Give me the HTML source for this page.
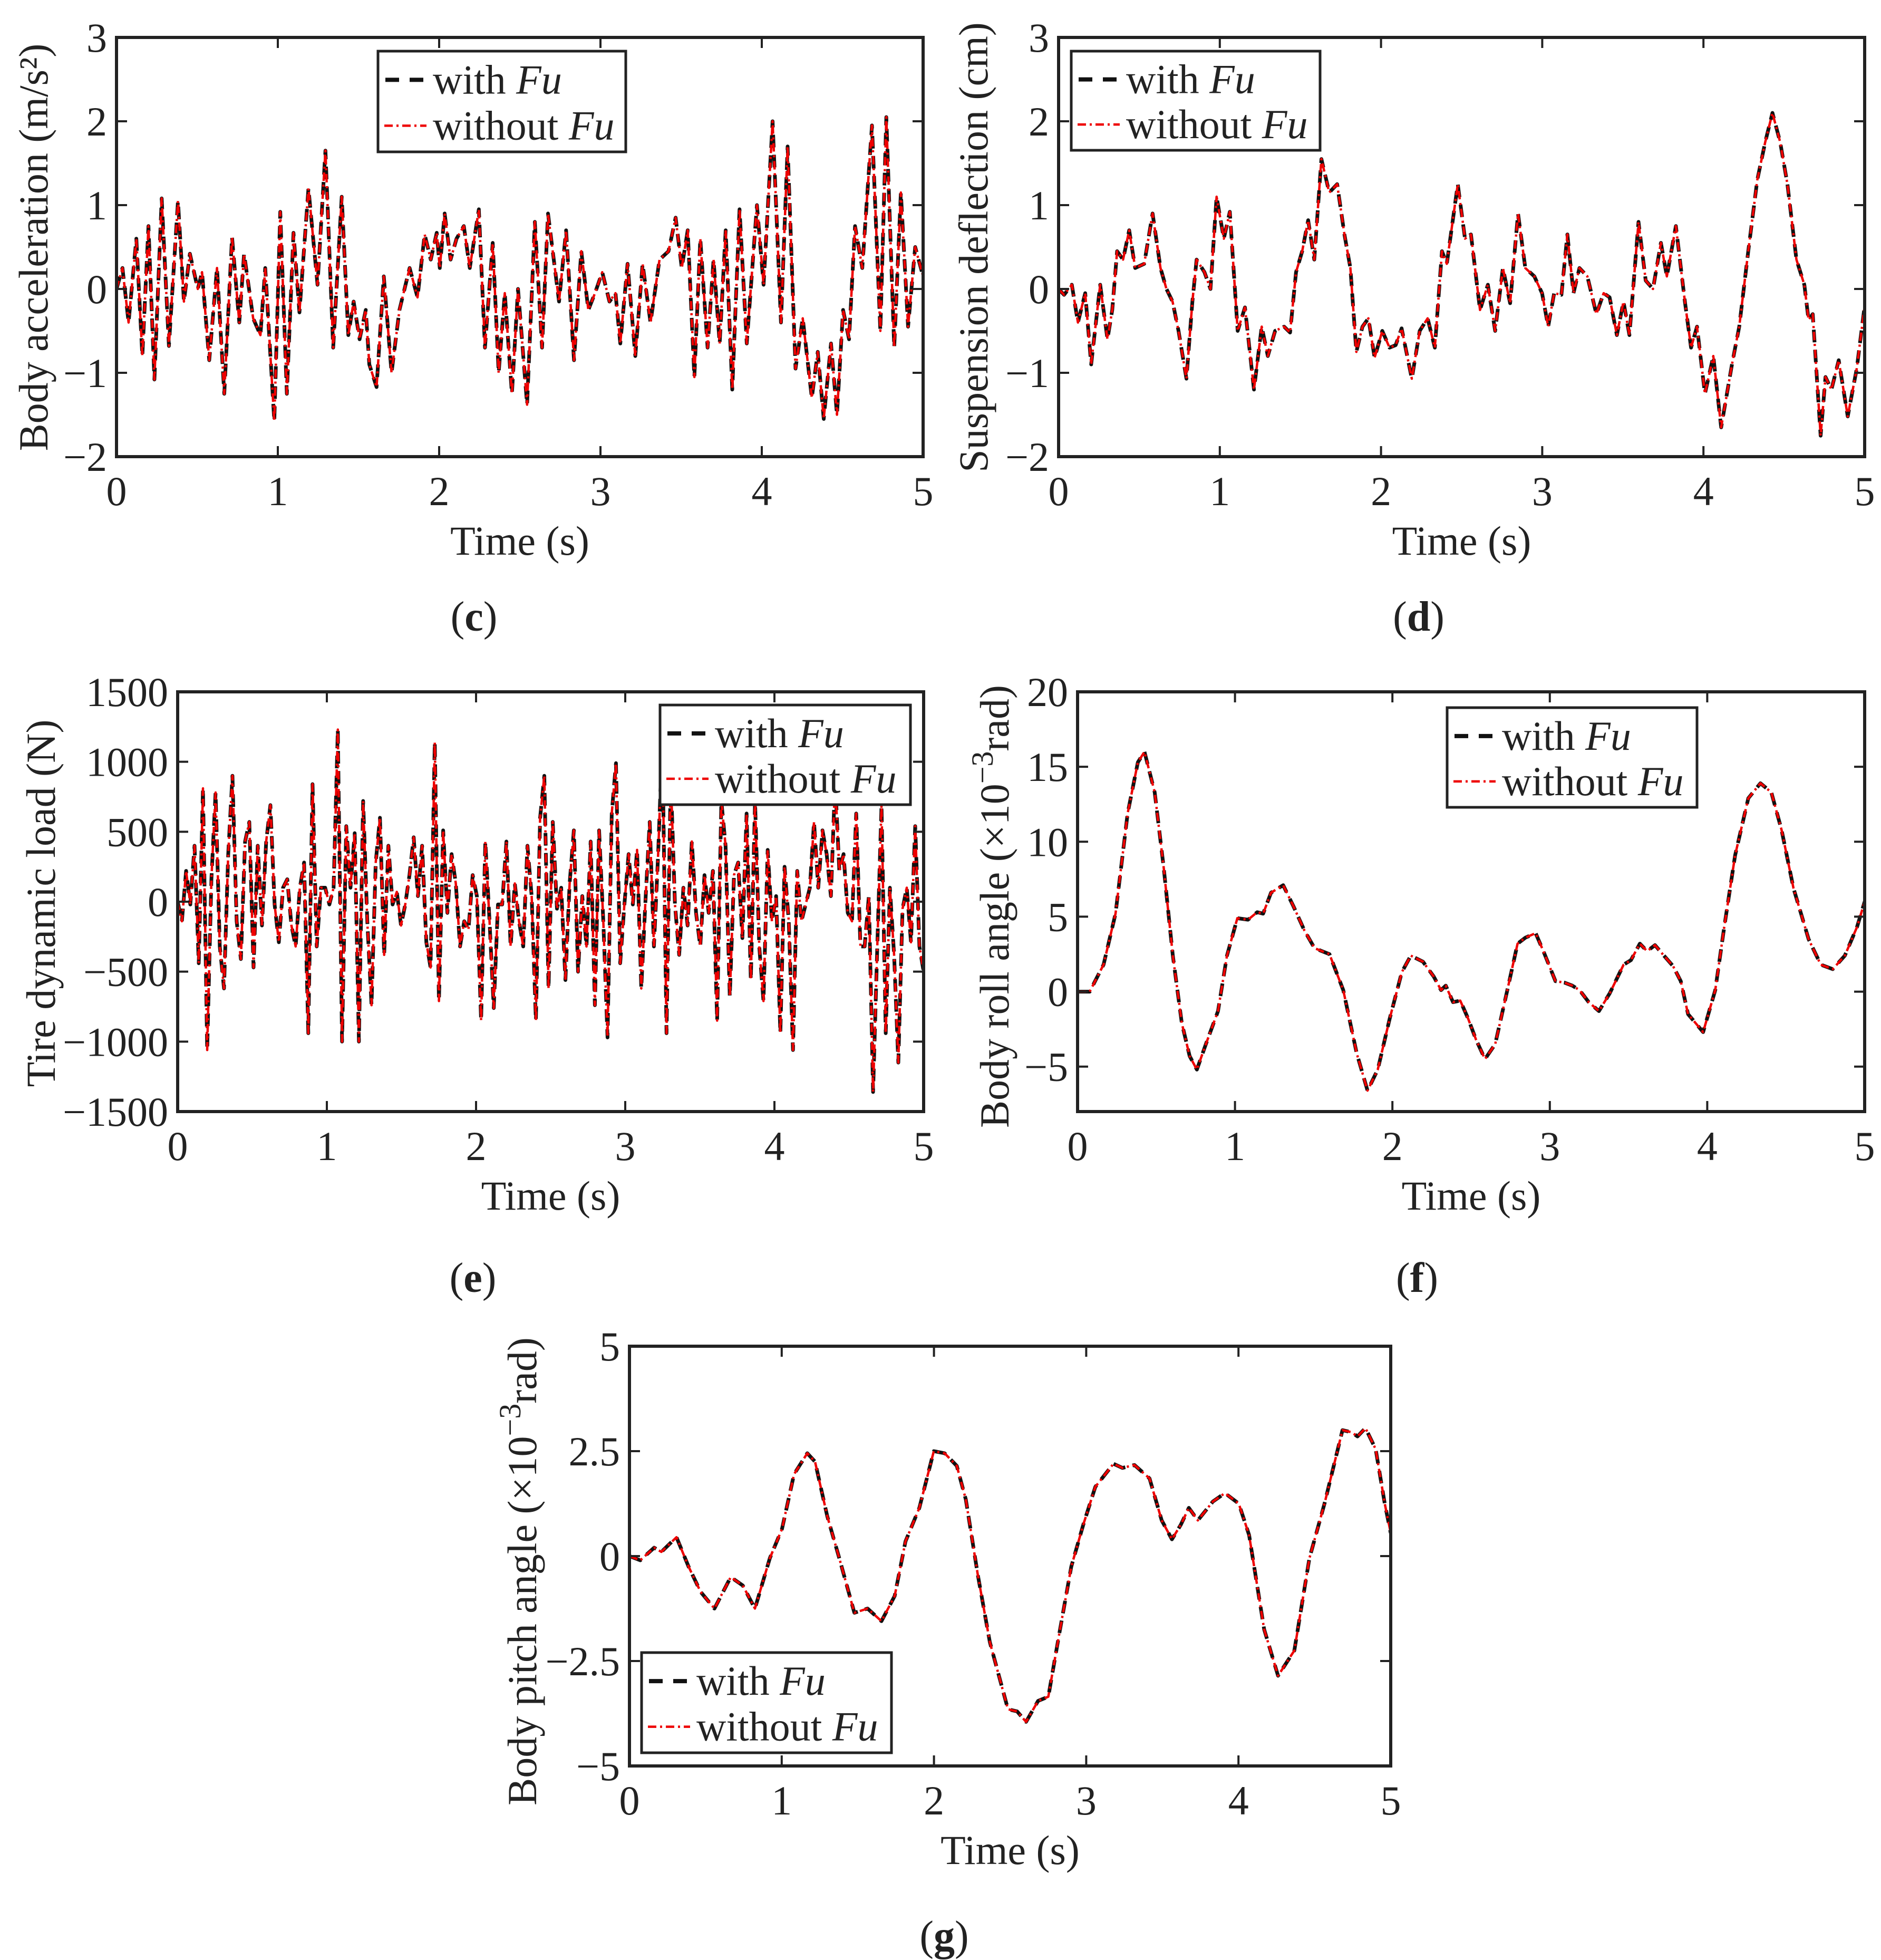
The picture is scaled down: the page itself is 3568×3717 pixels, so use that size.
<!DOCTYPE html>
<html><head><meta charset="utf-8">
<style>
html,body{margin:0;padding:0;background:#fff;}
svg{display:block;}
text{font-family:"Liberation Serif","DejaVu Serif",serif;fill:#222;}
</style></head>
<body>
<svg id="fig" width="3568" height="3717" viewBox="0 0 3568 3717" xmlns="http://www.w3.org/2000/svg"></svg>
<script>
// ---------- data ----------
const xTicks = [0,1,2,3,4,5];
const xTickLabels = ["0","1","2","3","4","5"];

// (c) body acceleration
const accTime = [0,0.037,0.075,0.123,0.160,0.198,0.235,0.280,0.325,0.381,0.418,0.455,0.504,0.530,0.575,0.623,0.668,0.716,0.761,0.791,0.847,0.892,0.922,0.978,1.015,1.056,1.097,1.134,1.190,1.246,1.295,1.343,1.396,1.437,1.470,1.507,1.545,1.567,1.612,1.657,1.705,1.754,1.817,1.866,1.910,1.948,1.985,2.004,2.034,2.071,2.108,2.153,2.190,2.246,2.284,2.332,2.369,2.407,2.451,2.489,2.545,2.593,2.638,2.675,2.743,2.787,2.836,2.881,2.925,2.966,3.011,3.056,3.093,3.123,3.168,3.216,3.261,3.310,3.366,3.422,3.466,3.504,3.541,3.582,3.619,3.664,3.701,3.739,3.776,3.817,3.862,3.907,3.970,4.011,4.067,4.119,4.160,4.209,4.254,4.310,4.347,4.384,4.429,4.466,4.504,4.541,4.578,4.623,4.683,4.735,4.772,4.821,4.862,4.907,4.951,5.0];
const accWith = [0,0.25,-0.4,0.6,-0.8,0.75,-1.08,1.08,-0.68,1.05,-0.15,0.42,0,0.2,-0.85,0.25,-1.25,0.62,-0.4,0.42,-0.35,-0.55,0.25,-1.58,0.92,-1.25,0.67,-0.28,1.2,0.05,1.65,-0.7,1.1,-0.55,-0.15,-0.6,-0.25,-0.9,-1.17,0.15,-1.0,-0.25,0.25,-0.1,0.65,0.35,0.67,0.25,0.9,0.35,0.6,0.75,0.25,0.95,-0.7,0.55,-1.0,-0.05,-1.25,0,-1.38,0.8,-0.7,0.9,-0.15,0.7,-0.85,0.45,-0.25,-0.05,0.2,-0.15,-0.05,-0.65,0.3,-0.8,0.3,-0.4,0.35,0.45,0.85,0.25,0.7,-1.05,0.6,-0.7,0.35,-0.65,0.7,-1.2,0.95,-0.65,1.0,0.05,2.0,-0.4,1.7,-0.95,-0.35,-1.3,-0.75,-1.55,-0.65,-1.5,-0.25,-0.6,0.75,0.25,1.95,-0.5,2.05,-0.7,1.15,-0.45,0.5,0.15];
const accWithout = accWith; // curves coincide in the figure

// (d) suspension deflection
const defTime = [0,0.034,0.082,0.120,0.165,0.202,0.258,0.303,0.333,0.363,0.400,0.438,0.475,0.531,0.583,0.632,0.669,0.707,0.744,0.793,0.830,0.856,0.905,0.942,0.980,1.025,1.062,1.111,1.156,1.212,1.260,1.298,1.343,1.399,1.436,1.473,1.511,1.548,1.586,1.630,1.679,1.728,1.773,1.810,1.847,1.885,1.922,1.960,2.008,2.053,2.091,2.128,2.191,2.240,2.289,2.334,2.378,2.408,2.476,2.521,2.558,2.614,2.663,2.708,2.756,2.801,2.850,2.895,2.951,2.999,3.037,3.074,3.119,3.156,3.194,3.231,3.280,3.336,3.381,3.418,3.463,3.504,3.541,3.597,3.642,3.687,3.736,3.773,3.829,3.885,3.923,3.960,4.009,4.061,4.110,4.177,4.222,4.278,4.334,4.383,4.428,4.476,4.521,4.577,4.626,4.652,4.678,4.727,4.757,4.794,4.839,4.895,4.951,5.0];
const defWith = [0,-0.07,0.05,-0.4,-0.05,-0.9,0.05,-0.6,-0.25,0.45,0.35,0.7,0.25,0.3,0.9,0.25,0,-0.15,-0.5,-1.07,-0.15,0.35,0.2,0,1.1,0.6,0.92,-0.5,-0.22,-1.2,-0.45,-0.8,-0.5,-0.45,-0.52,0.2,0.45,0.82,0.35,1.55,1.15,1.25,0.65,0.25,-0.75,-0.45,-0.35,-0.82,-0.5,-0.7,-0.67,-0.47,-1.07,-0.5,-0.35,-0.7,0.45,0.3,1.25,0.6,0.65,-0.25,0.05,-0.5,0.25,-0.17,0.9,0.25,0.15,-0.05,-0.45,-0.05,-0.07,0.65,-0.05,0.25,0.15,-0.3,-0.05,-0.1,-0.55,-0.15,-0.55,0.8,0.1,0,0.55,0.15,0.75,-0.15,-0.7,-0.45,-1.25,-0.8,-1.65,-0.9,-0.45,0.45,1.3,1.75,2.1,1.75,1.25,0.35,0.05,-0.37,-0.3,-1.75,-1.05,-1.2,-0.85,-1.52,-0.95,-0.2];
const defWithout = defWith;

// (e) tire dynamic load, uniformly sampled over 0..5 s
const loadWith = [0,-140,220,-20,400,-440,810,-1060,160,780,-320,-620,340,900,-140,-410,430,570,-470,400,-170,430,690,-20,-290,100,160,-170,-320,100,280,-940,840,-320,100,100,-20,100,1230,-1000,540,100,490,-1000,720,-140,-740,280,600,-380,400,-20,70,-170,-20,190,460,40,400,-290,-470,1140,-710,510,-80,340,130,-320,-140,-200,190,40,-850,430,-140,-760,-20,-20,430,-320,130,-140,-320,400,40,-850,600,900,-620,570,-50,100,-560,130,510,-500,40,-320,430,-740,510,-140,-970,630,990,-440,-20,340,-20,370,-620,10,570,-320,340,1170,-940,900,-20,-380,100,-170,430,-80,-320,190,-80,220,-850,720,400,-680,190,280,-260,630,-560,720,-320,-710,370,-140,40,-940,250,-140,-1060,220,-140,-20,100,570,100,510,340,40,870,220,340,-80,-140,630,-320,-320,40,-1360,-320,690,-940,100,-380,-1150,-50,100,-290,540,-320,-500];
const loadWithout = loadWith;
const loadTime = loadWith.map((v,i)=>i*5/(loadWith.length-1));

// (f) body roll angle (x10^-3 rad)
const rollTime = [0,0.077,0.165,0.241,0.318,0.383,0.425,0.490,0.547,0.605,0.662,0.712,0.758,0.815,0.892,0.949,1.015,1.083,1.141,1.179,1.229,1.306,1.371,1.440,1.505,1.600,1.688,1.773,1.842,1.907,1.983,2.060,2.117,2.194,2.263,2.309,2.339,2.385,2.431,2.481,2.531,2.588,2.653,2.730,2.795,2.845,2.910,2.959,3.036,3.093,3.143,3.189,3.247,3.312,3.381,3.469,3.515,3.572,3.618,3.668,3.725,3.783,3.832,3.878,3.974,4.051,4.108,4.177,4.261,4.338,4.407,4.472,4.548,4.644,4.721,4.797,4.874,4.951,5.0];
const rollWith = [0,0,1.8,5.2,11.9,15.3,16.0,13.3,8.3,2.4,-2.1,-4.3,-5.2,-3.5,-1.3,2.4,4.9,4.8,5.3,5.2,6.6,7.1,5.7,4.1,2.9,2.5,0.1,-4.1,-6.6,-5.2,-1.8,1.3,2.4,2.0,1.0,0.1,0.4,-0.7,-0.6,-1.8,-3.2,-4.5,-3.5,0.1,3.2,3.6,3.9,2.7,0.7,0.6,0.4,0.1,-0.7,-1.3,-0.1,1.8,2.1,3.2,2.7,3.1,2.4,1.7,0.7,-1.5,-2.7,0.1,4.3,9.1,12.9,13.9,13.3,10.8,6.9,3.5,1.8,1.5,2.4,4.3,6.0];
const rollWithout = rollWith;

// (g) body pitch angle (x10^-3 rad)
const pitchTime = [0,0.071,0.162,0.210,0.309,0.388,0.467,0.558,0.665,0.744,0.824,0.922,1.002,1.081,1.168,1.219,1.299,1.378,1.477,1.564,1.655,1.742,1.813,1.904,1.999,2.070,2.150,2.209,2.288,2.367,2.486,2.546,2.605,2.684,2.751,2.823,2.902,2.981,3.060,3.179,3.238,3.317,3.416,3.496,3.563,3.622,3.674,3.733,3.832,3.911,4.002,4.070,4.169,4.260,4.367,4.466,4.565,4.683,4.743,4.782,4.834,4.901,4.961,5.0];
const pitchWith = [0,-0.1,0.2,0.1,0.45,-0.25,-0.85,-1.25,-0.5,-0.7,-1.25,-0.05,0.65,1.95,2.45,2.25,0.95,-0.05,-1.35,-1.25,-1.55,-0.95,0.35,1.15,2.5,2.45,2.15,1.35,-0.45,-2.05,-3.65,-3.7,-3.95,-3.45,-3.35,-1.85,-0.25,0.75,1.65,2.2,2.1,2.17,1.85,0.85,0.4,0.75,1.15,0.85,1.3,1.5,1.25,0.5,-1.75,-2.85,-2.25,-0.05,1.25,3.0,2.95,2.85,3.05,2.55,1.25,0.55];
const pitchWithout = pitchWith;

const accYTicks=[-2,-1,0,1,2,3], accYLabels=["−2","−1","0","1","2","3"];
const defYTicks=[-2,-1,0,1,2,3], defYLabels=["−2","−1","0","1","2","3"];
const loadYTicks=[-1500,-1000,-500,0,500,1000,1500], loadYLabels=["−1500","−1000","−500","0","500","1000","1500"];
const rollYTicks=[-5,0,5,10,15,20], rollYLabels=["−5","0","5","10","15","20"];
const pitchYTicks=[-5,-2.5,0,2.5,5], pitchYLabels=["−5","−2.5","0","2.5","5"];

// ---------- drawing ----------
const NS="http://www.w3.org/2000/svg";
const svg=document.getElementById('fig');
function mk(tag,attrs,parent){const e=document.createElementNS(NS,tag);for(const k in attrs)e.setAttribute(k,attrs[k]);(parent||svg).appendChild(e);return e;}

function panel(p){
  const g=mk('g',{});
  
  
  const X=t=>p.x0+(t-0)/(5-0)*(p.x1-p.x0);
  const Y=v=>p.y1-(v-p.ymin)/(p.ymax-p.ymin)*(p.y1-p.y0);
  const clipId='clip-'+p.name;
  const cp=mk('clipPath',{id:clipId},g);
  mk('rect',{x:p.x0,y:p.y0,width:p.x1-p.x0,height:p.y1-p.y0},cp);
  function series(times,vals,style,nm){
    let d='';
    for(let i=0;i<times.length;i++){d+=(i?'L':'M')+X(times[i]).toFixed(1)+' '+Y(vals[i]).toFixed(1);}
    const path=mk('path',Object.assign({d:d,fill:'none','clip-path':'url(#'+clipId+')','stroke-linejoin':'round'},style),g);
    
    
  }
  series(p.t,p.w,{stroke:'#111','stroke-width':7,'stroke-dasharray':'24 14'},p.name+'-with-fu-line');
  series(p.t,p.wo,{stroke:'#ee0000','stroke-width':4.5,'stroke-dasharray':'16 7 4 7'},p.name+'-without-fu-line');
  for(let i=0;i<xTicks.length;i++){
    const x=X(xTicks[i]);
    mk('line',{x1:x,y1:p.y1,x2:x,y2:p.y1-20,stroke:'#222','stroke-width':4},g);
    mk('line',{x1:x,y1:p.y0,x2:x,y2:p.y0+20,stroke:'#222','stroke-width':4},g);
    const tl=mk('text',{x:x,y:p.y1+92,'font-size':78,'text-anchor':'middle'},g);
    tl.textContent=xTickLabels[i];
    
    
  }
  for(let i=0;i<p.yt.length;i++){
    const y=Y(p.yt[i]);
    mk('line',{x1:p.x0,y1:y,x2:p.x0+20,y2:y,stroke:'#222','stroke-width':4},g);
    mk('line',{x1:p.x1,y1:y,x2:p.x1-20,y2:y,stroke:'#222','stroke-width':4},g);
    const tl=mk('text',{x:p.x0-18,y:y+27,'font-size':78,'text-anchor':'end'},g);
    tl.textContent=p.yl[i];
    
    
  }
  const box=mk('rect',{x:p.x0,y:p.y0,width:p.x1-p.x0,height:p.y1-p.y0,fill:'none',stroke:'#222','stroke-width':6},g);
  
  
  const xl=mk('text',{x:(p.x0+p.x1)/2+p.xlo,y:p.y1+186,'font-size':78,'text-anchor':'middle'},g);
  xl.textContent='Time (s)';
  
  
  const yl=mk('text',{x:0,y:0,'font-size':78,'text-anchor':'middle',transform:'translate('+(p.ylx+26)+','+p.yly+') rotate(-90)'},g);
  yl.innerHTML=p.ylabel;
  
  
  const L=p.leg;
  const lg=mk('g',{},g);
  
  
  mk('rect',{x:L[0],y:L[1],width:L[2]-L[0],height:L[3]-L[1],fill:'#fff',stroke:'#222','stroke-width':5},lg);
  const h=L[3]-L[1];
  const r1=L[1]+h*0.285, r2=L[1]+h*0.74;
  const s1=mk('line',{x1:L[0]+14,y1:r1,x2:L[0]+92,y2:r1,stroke:'#111','stroke-width':8,'stroke-dasharray':'26 20'},lg);
  
  
  const s2=mk('line',{x1:L[0]+12,y1:r2,x2:L[0]+92,y2:r2,stroke:'#ee0000','stroke-width':4.5,'stroke-dasharray':'16 7 4 7'},lg);
  
  
  const t1=mk('text',{x:L[0]+104,y:r1+26,'font-size':78},lg);
  t1.innerHTML='with <tspan font-style="italic">Fu</tspan>';
  
  
  const t2=mk('text',{x:L[0]+104,y:r2+26,'font-size':78},lg);
  t2.innerHTML='without <tspan font-style="italic">Fu</tspan>';
  
  
  const cap=mk('text',{x:p.cx,y:p.cy,'font-size':80,'text-anchor':'middle'},g);
  cap.innerHTML='(<tspan font-weight="bold">'+p.letter+'</tspan>)';
  
  
}

const sup='<tspan>(×10</tspan><tspan dy="-30" font-size="58">−3</tspan><tspan dy="30">rad)</tspan>';
panel({name:'body-acceleration',letter:'c',x0:221,x1:1751,y0:71,y1:866,ymin:-2,ymax:3,yt:accYTicks,yl:accYLabels,t:accTime,w:accWith,wo:accWithout,
  ylabel:'Body acceleration (m/s²)',ylx:64,yly:469,xlo:0,leg:[717,97,1187,288],cx:899,cy:1196});
panel({name:'suspension-deflection',letter:'d',x0:2008,x1:3537,y0:71,y1:866,ymin:-2,ymax:3,yt:defYTicks,yl:defYLabels,t:defTime,w:defWith,wo:defWithout,
  ylabel:'Suspension deflection (cm)',ylx:1847,yly:469,xlo:0,leg:[2032,97,2504,285],cx:2691,cy:1196});
panel({name:'tire-dynamic-load',letter:'e',x0:337,x1:1752,y0:1312,y1:2108,ymin:-1500,ymax:1500,yt:loadYTicks,yl:loadYLabels,t:loadTime,w:loadWith,wo:loadWithout,
  ylabel:'Tire dynamic load (N)',ylx:78,yly:1713,xlo:0,leg:[1252,1337,1727,1526],cx:897,cy:2450});
panel({name:'body-roll-angle',letter:'f',x0:2044,x1:3537,y0:1312,y1:2108,ymin:-8,ymax:20,yt:rollYTicks,yl:rollYLabels,t:rollTime,w:rollWith,wo:rollWithout,
  ylabel:'Body roll angle '+sup,ylx:1887,yly:1719,xlo:0,leg:[2745,1342,3219,1531],cx:2688,cy:2450});
panel({name:'body-pitch-angle',letter:'g',x0:1194,x1:2638,y0:2553,y1:3349,ymin:-5,ymax:5,yt:pitchYTicks,yl:pitchYLabels,t:pitchTime,w:pitchWith,wo:pitchWithout,
  ylabel:'Body pitch angle '+sup,ylx:991,yly:2980,xlo:0,leg:[1217,3134,1691,3324],cx:1791,cy:3698});
</script>
</body></html>
